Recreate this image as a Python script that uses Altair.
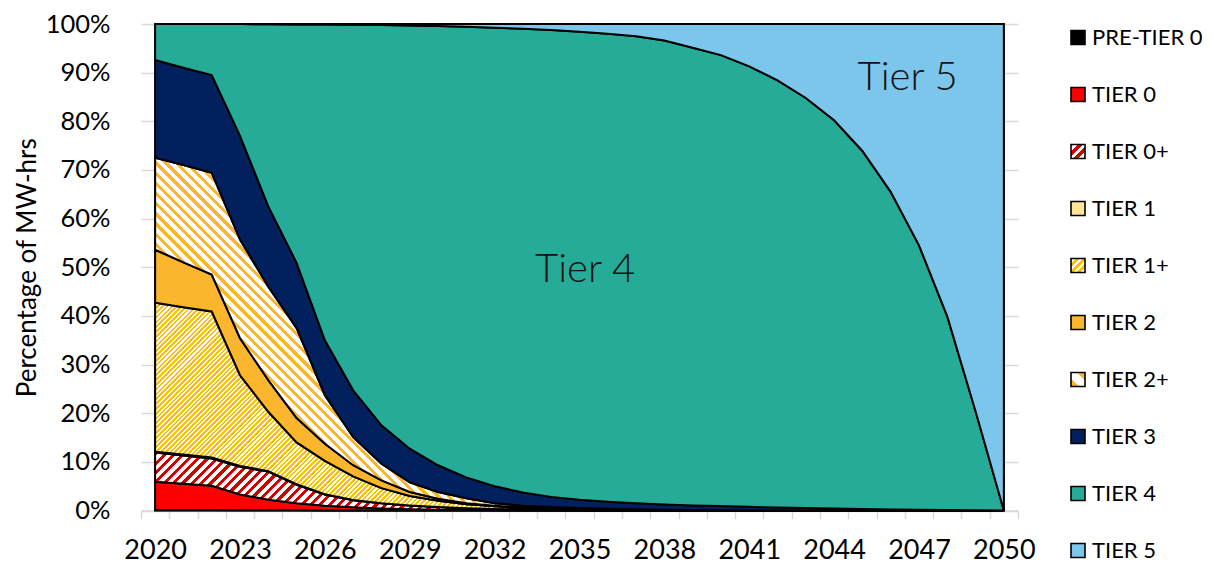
import math
import altair as alt
import pandas as pd

# ---------------- data ----------------
years = list(range(2020, 2051))
tiers = ["PRE-TIER 0", "TIER 0", "TIER 0+", "TIER 1", "TIER 1+",
         "TIER 2", "TIER 2+", "TIER 3", "TIER 4", "TIER 5"]

pre_tier0 = [0.1, 0.1, 0.1, 0.05, 0.05, 0.05] + [0] * 25
tier0 = [5.8, 5.4, 5.0, 3.25, 2.15, 1.45, 1.0, 0.65, 0.4, 0.25, 0.15, 0.1, 0.05] + [0] * 18
tier0p = [6.0, 5.8, 5.6, 5.7, 5.8, 3.8, 2.3, 1.45, 1.1, 0.8, 0.55, 0.35, 0.25, 0.2, 0.1, 0.05] + [0] * 15
tier1 = [0.2, 0.2, 0.2, 0.15, 0.1, 0.1, 0.05, 0.05] + [0] * 23
tier1p = [30.6, 30.3, 30.0, 18.65, 12.2, 8.6, 6.85, 4.85, 3.1, 1.95, 1.3, 0.85, 0.55, 0.3,
          0.2, 0.15, 0.1, 0.05] + [0] * 13
tier2 = [10.9, 9.2, 7.6, 7.6, 6.5, 5.0, 3.5, 2.3, 1.6, 0.8, 0.4, 0.2, 0.15, 0.1, 0.1, 0.05,
         0.05, 0.05, 0.05] + [0] * 12
tier2p = [18.9, 20.0, 20.9, 20.3, 19.2, 18.5, 10.0, 5.8, 3.4, 2.0, 1.4, 1.0, 0.5, 0.4, 0.3,
          0.25, 0.2, 0.15, 0.1, 0.1, 0.05] + [0] * 10
tier3 = [20.1, 20.0, 20.1, 21.3, 16.5, 13.4, 11.3, 9.6, 7.9, 6.9, 5.5, 4.3, 3.5, 2.7, 2.1,
         1.7, 1.45, 1.25, 1.1, 0.95, 0.85, 0.75, 0.6, 0.5, 0.4, 0.3, 0.2, 0.15, 0.1, 0.05, 0]
tier4 = [7.4, 9.0, 10.5, 22.98, 37.45, 49.02, 64.9, 75.15, 82.3, 87.0, 90.3, 92.65, 94.25,
         95.3, 95.95, 96.2, 96.2, 96.0, 95.35, 94.05, 92.7, 90.55, 87.8, 84.3, 79.8, 73.6,
         65.3, 54.35, 39.8, 20.35, 0]
tier5 = [0, 0, 0, 0.02, 0.05, 0.08, 0.1, 0.15, 0.2, 0.3, 0.4, 0.55, 0.75, 1.0, 1.25, 1.6,
         2.0, 2.5, 3.4, 4.9, 6.4, 8.7, 11.6, 15.2, 19.8, 26.1, 34.5, 45.5, 60.1, 79.6, 100]

series = [pre_tier0, tier0, tier0p, tier1, tier1p, tier2, tier2p, tier3, tier4, tier5]

label_text = ["Tier 4", "Tier 5"]
label_year = [2035.2, 2046.6]
label_pct = [49.4, 88.9]

rows = []
for order, (tier, vals) in enumerate(zip(tiers, series)):
    for yr, v in zip(years, vals):
        rows.append({"year": yr, "tier": tier, "order": order, "value": v})
df = pd.DataFrame(rows)
labels_df = pd.DataFrame({"label": label_text, "year": label_year, "pct": label_pct})

# ---------------- layout ----------------
W_PLOT = 877
H_PLOT = 486.5
X_DOMAIN = [2019.5, 2050.5]

# ---------------- stripe patterns (linear gradients with hard stops) -------
def stripes(c_line, c_bg, period, frac, W, H, direction, centered=False):
    n = max(1, int(round((W + H) / (math.sqrt(2) * period))))
    den = W * W + H * H
    a = (W + H) * W / den
    b = (W + H) * H / den
    if direction == "/":
        x1, y1, x2, y2 = 0, 0, a, b
    else:
        x1, y1, x2, y2 = 0, 1, a, 1 - b
    stops = []
    if centered:
        h = frac / 2
        stops += [(0, c_line), (h / n, c_line), (h / n, c_bg)]
        for k in range(1, n + 1):
            s, e = (k - h) / n, min(1.0, (k + h) / n)
            stops += [(s, c_bg), (s, c_line), (e, c_line)]
            if k < n:
                stops += [(e, c_bg)]
    else:
        for k in range(n):
            s, m, e = k / n, (k + frac) / n, (k + 1) / n
            stops += [(s, c_line), (m, c_line), (m, c_bg), (e, c_bg)]
    return {"gradient": "linear", "x1": round(x1, 5), "y1": round(y1, 5),
            "x2": round(x2, 5), "y2": round(y2, 5),
            "stops": [{"offset": round(o, 5), "color": c} for o, c in stops]}


def grad_expr(g):
    st = ",".join("{offset:%s,color:'%s'}" % (s["offset"], s["color"]) for s in g["stops"])
    return {"expr": "{gradient:'linear',x1:%s,y1:%s,x2:%s,y2:%s,stops:[%s]}" % (
        g["x1"], g["y1"], g["x2"], g["y2"], st)}


solid = {"PRE-TIER 0": "#000000", "TIER 0": "#FF0000", "TIER 1": "#FFE699",
         "TIER 2": "#FBB62D", "TIER 3": "#02205E", "TIER 4": "#27AB99", "TIER 5": "#7CC6EC"}
pattern = {"TIER 0+": ("#D40000", "#FFFFFF", 6.6, 0.45, "/"),
           "TIER 1+": ("#FFC000", "#FFFFFF", 3.4, 0.55, "/"),
           "TIER 2+": ("#FBB62D", "#FFFFFF", 7.2, 0.42, "\\")}
legend_pattern = {"TIER 0+": ("#D40000", "#FFFFFF", 6.6, 0.5, "/"),
                  "TIER 1+": ("#FFC000", "#FFFFFF", 4.9, 0.5, "/"),
                  "TIER 2+": ("#FBB62D", "#FFFFFF", 19.8, 0.55, "\\")}

# bounding boxes of the stacked areas (for pattern geometry)
cum = [0.0] * len(years)
bbox = {}
for tier, vals in zip(tiers, series):
    lo = cum[:]
    hi = [c + v for c, v in zip(cum, vals)]
    bbox[tier] = (W_PLOT * 30 / 31, H_PLOT * (max(hi) - min(lo)) / 100)
    cum = hi

legend_range = []
for t in tiers:
    if t in solid:
        legend_range.append(solid[t])
    else:
        c1, c2, p, f, d = legend_pattern[t]
        legend_range.append(grad_expr(stripes(c1, c2, p, f, 14, 14, d, centered=True)))

# ---------------- encodings ----------------
tick_vals = sorted(set([y - 0.5 for y in years] + [years[-1] + 0.5] + years[::3]))

x_axis = alt.Axis(values=tick_vals,
                  labelExpr="datum.value % 3 == 1 ? '' + datum.value : ''",
                  grid=False, domainColor="#D9D9D9", domainWidth=1.5,
                  tickColor="#D9D9D9", tickWidth=1.5, tickSize=8,
                  tickOpacity={"condition": {"test": "datum.value % 1 != 0", "value": 1}, "value": 0},
                  labelFontSize=27, labelColor="black", labelPadding=19,
                  labelOverlap=False, labelFlush=False, labelBound=False)
y_axis = alt.Axis(values=list(range(0, 101, 10)), labelExpr="datum.value + '%'",
                  grid=True, gridColor="#D9D9D9", gridWidth=1.5, domain=False, ticks=False,
                  labelFontSize=25.5, labelColor="black", labelPadding=31,
                  titleFontSize=26, titleFontWeight="normal", titleColor="black", titlePadding=5)

x_enc = alt.X("year:Q", scale=alt.Scale(domain=X_DOMAIN, nice=False, zero=False),
              axis=x_axis, title=None)
y_scale = alt.Scale(domain=[0, 100], nice=False)
Y_TITLE = "Percentage of MW-hrs"

base = alt.Chart(df).transform_stack(
    stack="value", groupby=["year"], as_=["y0", "y1"],
    sort=[alt.SortField("order", order="ascending")])

legend_layer = base.mark_area(stroke="black", strokeWidth=1.5).encode(
    x=x_enc,
    y=alt.Y("y1:Q", scale=y_scale, axis=y_axis, title=Y_TITLE),
    y2="y0:Q",
    color=alt.Color("tier:N", scale=alt.Scale(domain=tiers, range=legend_range),
                    legend=alt.Legend(title=None, orient="none", legendX=926, legendY=2.5,
                                      symbolType="square", symbolSize=196,
                                      symbolStrokeColor="black", symbolStrokeWidth=1.6,
                                      labelFontSize=22, labelColor="black", labelOffset=3,
                                      rowPadding=35, labelLimit=300)),
    order=alt.Order("order:Q"),
)

layers = [legend_layer]
for t in tiers:
    if t in solid:
        fill = solid[t]
    else:
        c1, c2, p, f, d = pattern[t]
        W, H = bbox[t]
        fill = stripes(c1, c2, p, f, W, H, d)
    lyr = base.transform_filter(alt.datum.tier == t).mark_area(
        fill=fill, stroke="black", strokeWidth=2.0, strokeJoin="miter").encode(
        x=x_enc,
        y=alt.Y("y1:Q", scale=y_scale, axis=y_axis, title=Y_TITLE),
        y2="y0:Q",
    )
    layers.append(lyr)

text_layer = alt.Chart(labels_df).mark_text(
    fontSize=40, fontWeight=300, color="#111111", align="center", baseline="middle").encode(
    x=x_enc,
    y=alt.Y("pct:Q", scale=y_scale, axis=y_axis, title=Y_TITLE),
    text="label:N",
)
layers.append(text_layer)

chart = alt.layer(*layers).properties(
    width=W_PLOT, height=H_PLOT,
    padding={"left": 133, "top": 16, "right": 188, "bottom": 56},
    autosize=alt.AutoSizeParams(type="none"),
).configure(font="Lato").configure_view(stroke=None)

chart.save("out.html", embed_options={"renderer": "svg", "actions": False})
